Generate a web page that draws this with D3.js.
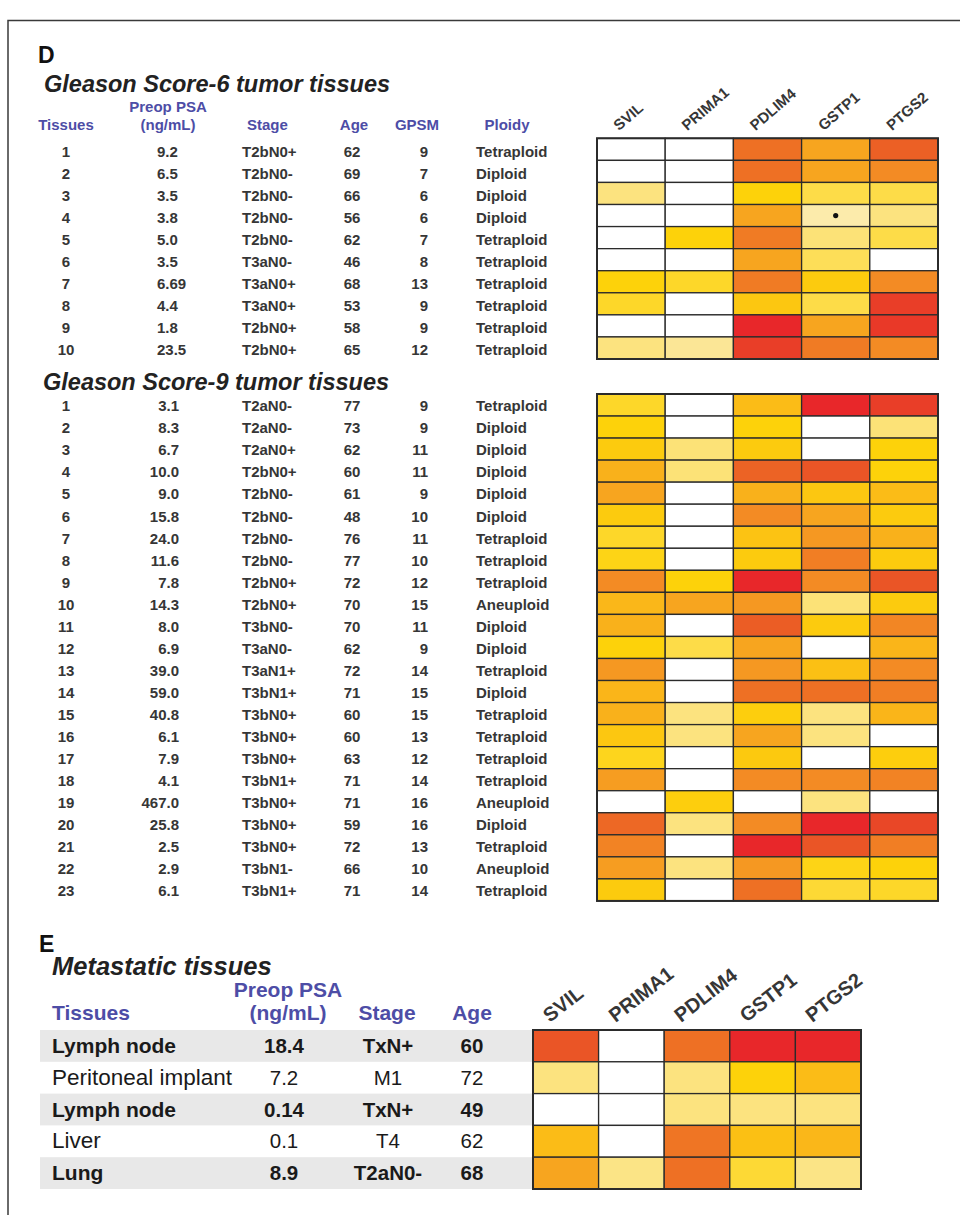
<!DOCTYPE html>
<html>
<head>
<meta charset="utf-8">
<script src="https://cdn.jsdelivr.net/npm/d3@7"></script>
<style>
  html, body { margin: 0; padding: 0; background: #fff; }
  svg { display: block; }
  text { font-family: "Liberation Sans", Arial, Helvetica, sans-serif; }
</style>
</head>
<body>
<svg id="fig" width="960" height="1215"></svg>
<script>
// ---------- data ----------
const genes = ["SVIL", "PRIMA1", "PDLIM4", "GSTP1", "PTGS2"];

// Gleason score-6 tumor tissues
const g6Tissue = ["1","2","3","4","5","6","7","8","9","10"];
const g6PSA    = ["9.2","6.5","3.5","3.8","5.0","3.5","6.69","4.4","1.8","23.5"];
const g6Stage  = ["T2bN0+","T2bN0-","T2bN0-","T2bN0-","T2bN0-","T3aN0-","T3aN0+","T3aN0+","T2bN0+","T2bN0+"];
const g6Age    = ["62","69","66","56","62","46","68","53","58","65"];
const g6GPSM   = ["9","7","6","6","7","8","13","9","9","12"];
const g6Ploidy = ["Tetraploid","Diploid","Diploid","Diploid","Tetraploid","Tetraploid","Tetraploid","Tetraploid","Tetraploid","Tetraploid"];
// methylation level per gene (0 = none ... 9 = highest)
const g6Level = [
  [0,   0,   7,   5,   7.6],
  [0,   0,   7,   5,   6],
  [1.3, 0,   3,   2,   2],
  [0,   0,   5,   0.8, 1.3],
  [0,   3,   6.6, 1.4, 2],
  [0,   0,   5,   1.8, 0],
  [3,   2.5, 6.6, 3.3, 6],
  [2.5, 0,   3.5, 2,   8.5],
  [0,   0,   9,   5,   8.6],
  [1.3, 1,   8.5, 6.6, 6]
];
// cells flagged with a dot
const g6Dots = [{ row: 3, gene: "GSTP1" }];

// Gleason score-9 tumor tissues
const g9Tissue = d3.range(1, 24).map(String);
const g9PSA    = ["3.1","8.3","6.7","10.0","9.0","15.8","24.0","11.6","7.8","14.3","8.0","6.9","39.0","59.0","40.8","6.1","7.9","4.1","467.0","25.8","2.5","2.9","6.1"];
const g9Stage  = ["T2aN0-","T2aN0-","T2aN0+","T2bN0+","T2bN0-","T2bN0-","T2bN0-","T2bN0-","T2bN0+","T2bN0+","T3bN0-","T3aN0-","T3aN1+","T3bN1+","T3bN0+","T3bN0+","T3bN0+","T3bN1+","T3bN0+","T3bN0+","T3bN0+","T3bN1-","T3bN1+"];
const g9Age    = ["77","73","62","60","61","48","76","77","72","70","70","62","72","71","60","60","63","71","71","59","72","66","71"];
const g9GPSM   = ["9","9","11","11","9","10","11","10","12","15","11","9","14","15","15","13","12","14","16","16","13","10","14"];
const g9Ploidy = ["Tetraploid","Diploid","Diploid","Diploid","Diploid","Diploid","Tetraploid","Tetraploid","Tetraploid","Aneuploid","Diploid","Diploid","Tetraploid","Diploid","Tetraploid","Tetraploid","Tetraploid","Tetraploid","Aneuploid","Diploid","Tetraploid","Aneuploid","Tetraploid"];
const g9Level = [
  [2.5, 0,   4,   9,   8.5],
  [3,   0,   3,   0,   1.4],
  [3.3, 1.4, 3.3, 0,   3],
  [4.5, 1.4, 7.5, 8,   3],
  [5,   0,   4.5, 3.5, 4],
  [3.3, 0,   6,   5,   3.3],
  [2.5, 0,   3.7, 5.5, 4.5],
  [2.8, 0,   3.3, 6.5, 3.3],
  [6,   3,   9,   6,   8],
  [4.2, 5,   5.5, 1.4, 3.3],
  [4.5, 0,   7.7, 3.3, 6.2],
  [3,   2,   5,   0,   4.3],
  [5.5, 0,   5.5, 3.8, 6],
  [4.3, 0,   7,   7,   6.5],
  [4.5, 1.3, 3.2, 1.3, 4.3],
  [3.5, 1.3, 5,   1.3, 0],
  [2.7, 0,   3.4, 0,   3.2],
  [5.3, 0,   6,   6,   6.3],
  [0,   3.2, 0,   1.3, 0],
  [7.3, 1.3, 6,   9,   8.3],
  [6.3, 0,   9,   8,   6.5],
  [5.3, 1.3, 5.5, 2.8, 3],
  [3.3, 0,   7,   2.3, 2.5]
];

// Metastatic tissues
const metTissue = ["Lymph node", "Peritoneal implant", "Lymph node", "Liver", "Lung"];
const metPSA    = ["18.4", "7.2", "0.14", "0.1", "8.9"];
const metStage  = ["TxN+", "M1", "TxN+", "T4", "T2aN0-"];
const metAge    = ["60", "72", "49", "62", "68"];
const metLevel = [
  [8,   0,   7,   9,   9],
  [1.3, 0,   1.3, 3,   4],
  [0,   0,   1.3, 1.3, 1.3],
  [4,   0,   6.8, 3.8, 4.2],
  [5,   1.2, 7,   2.3, 1.2]
];

// colour ramp for methylation level
const levelStops  = [0, 1, 2, 3, 4, 5, 6, 7, 8, 9];
const levelColors = ["#ffffff","#fbe696","#fddc48","#fdd20a","#fbbc17","#f7a51f","#f38b24","#ee7024","#ea5526","#e8272a"];

// ---------- drawing ----------
const svg = d3.select("#fig");
const color = d3.scaleLinear().domain(levelStops).range(levelColors).interpolate(d3.interpolateRgb);

const INK = "#363636";
const HEAD = "#4d4da6";

// figure frame (top and left edges)
svg.append("path")
  .attr("d", "M8,1215 V20.5 H960")
  .attr("fill", "none").attr("stroke", "#3a3a3a").attr("stroke-width", 1.5);

function heatmap(opts) {
  const { levels, x0, x1, y0, rowH, labels, labelSize, labelAngle, labelDx, dots } = opts;
  const n = levels.length;
  const x = d3.scaleBand().domain(genes).range([x0, x1]);
  const y = d3.scaleBand().domain(d3.range(n)).range([y0, y0 + rowH * n]);
  const g = svg.append("g");
  const cells = [];
  levels.forEach((row, i) => row.forEach((v, j) => cells.push({ i, gene: genes[j], v })));
  g.selectAll("rect.cell").data(cells).join("rect")
    .attr("class", "cell")
    .attr("x", d => x(d.gene)).attr("y", d => y(d.i))
    .attr("width", x.bandwidth()).attr("height", y.bandwidth())
    .attr("fill", d => color(d.v))
    .attr("stroke", "#2b2b2b").attr("stroke-width", 1.3);
  g.append("rect")
    .attr("x", x0).attr("y", y0).attr("width", x1 - x0).attr("height", rowH * n)
    .attr("fill", "none").attr("stroke", "#2b2b2b").attr("stroke-width", 2);
  if (dots) {
    g.selectAll("circle.dot").data(dots).join("circle")
      .attr("class", "dot")
      .attr("cx", d => x(d.gene) + x.bandwidth() / 2)
      .attr("cy", d => y(d.row) + y.bandwidth() / 2)
      .attr("r", 2.6).attr("fill", "#111");
  }
  if (labels) {
    const ax = g.append("g").attr("transform", `translate(0,${y0})`)
      .call(d3.axisTop(x).tickSize(0).tickPadding(0));
    ax.select(".domain").remove();
    ax.selectAll("text")
      .attr("text-anchor", "start")
      .attr("fill", INK)
      .style("font-size", labelSize + "px")
      .style("font-weight", "bold")
      .attr("x", 0).attr("y", 0).attr("dy", 0)
      .attr("transform", `translate(${labelDx},-7) rotate(${labelAngle})`);
  }
  return y;
}

function txt(x, y, s, o = {}) {
  return svg.append("text")
    .attr("x", x).attr("y", y)
    .attr("text-anchor", o.anchor || "start")
    .attr("fill", o.fill || INK)
    .style("font-size", (o.size || 15) + "px")
    .style("font-weight", o.weight || "bold")
    .style("font-style", o.italic ? "italic" : "normal")
    .text(s);
}

// ---- panel D : Gleason score-6 ----
txt(38, 63, "D", { size: 23, fill: "#111" });
txt(44, 92, "Gleason Score-6 tumor tissues", { size: 23.5, italic: true, fill: "#222" });

const colTissue = 66, colPSA = 168, colStage = 242, colAge = 352, colGPSM = 428, colPloidy = 476;
txt(colTissue, 130, "Tissues", { anchor: "middle", fill: HEAD });
txt(colPSA, 112, "Preop PSA", { anchor: "middle", fill: HEAD });
txt(colPSA, 130, "(ng/mL)", { anchor: "middle", fill: HEAD });
txt(colStage + 5, 130, "Stage", { fill: HEAD });
txt(colAge + 2, 130, "Age", { anchor: "middle", fill: HEAD });
txt(colGPSM - 11, 130, "GPSM", { anchor: "middle", fill: HEAD });
txt(colPloidy + 31, 130, "Ploidy", { anchor: "middle", fill: HEAD });

const y6 = heatmap({ levels: g6Level, x0: 597, x1: 938, y0: 138.3, rowH: 22.07,
  labels: true, labelSize: 15, labelAngle: -41, labelDx: -12, dots: g6Dots });

function tableRows(yScale, off, cols) {
  const n = cols.tissue.length;
  for (let i = 0; i < n; i++) {
    const yc = yScale(i) + yScale.bandwidth() / 2 + off;
    const base = yc + 5.3;
    txt(colTissue, base, cols.tissue[i], { anchor: "middle" });
    if (cols.psaAnchor === "end") txt(cols.psaX, base, cols.psa[i], { anchor: "end" });
    else txt(cols.psaX, base, cols.psa[i]);
    txt(colStage, base, cols.stage[i]);
    txt(colAge, base, cols.age[i], { anchor: "middle" });
    txt(colGPSM, base, cols.gpsm[i], { anchor: "end" });
    txt(colPloidy, base, cols.ploidy[i]);
  }
}
tableRows(y6, 2, { tissue: g6Tissue, psa: g6PSA, psaX: 157, psaAnchor: "start",
  stage: g6Stage, age: g6Age, gpsm: g6GPSM, ploidy: g6Ploidy });

// ---- Gleason score-9 ----
txt(43, 390, "Gleason Score-9 tumor tissues", { size: 23.5, italic: true, fill: "#222" });
const y9 = heatmap({ levels: g9Level, x0: 597, x1: 938, y0: 394, rowH: 22.04, labels: false });
tableRows(y9, 1, { tissue: g9Tissue, psa: g9PSA, psaX: 179, psaAnchor: "end",
  stage: g9Stage, age: g9Age, gpsm: g9GPSM, ploidy: g9Ploidy });

// ---- panel E : metastatic tissues ----
txt(39, 952, "E", { size: 23, fill: "#111" });
txt(52, 975, "Metastatic tissues", { size: 25.5, italic: true, fill: "#222" });

const mx0 = 533, mx1 = 861, my0 = 1030, mRowH = 31.8;
const yM = d3.scaleBand().domain(d3.range(metTissue.length)).range([my0, my0 + mRowH * metTissue.length]);
// shaded bands behind alternate rows
svg.append("g").selectAll("rect").data(d3.range(metTissue.length).filter(i => i % 2 === 0)).join("rect")
  .attr("x", 40).attr("y", i => yM(i)).attr("width", mx0 - 40).attr("height", yM.bandwidth())
  .attr("fill", "#e8e8e8");

txt(52, 1020, "Tissues", { size: 21, fill: HEAD });
txt(288, 997, "Preop PSA", { size: 21, anchor: "middle", fill: HEAD });
txt(288, 1020, "(ng/mL)", { size: 21, anchor: "middle", fill: HEAD });
txt(387, 1020, "Stage", { size: 21, anchor: "middle", fill: HEAD });
txt(472, 1020, "Age", { size: 21, anchor: "middle", fill: HEAD });

metTissue.forEach((t, i) => {
  const base = yM(i) + yM.bandwidth() / 2 + 7;
  const bold = i % 2 === 0;
  const o = { size: 20.5, weight: bold ? "bold" : "normal", fill: "#1a1a1a" };
  txt(52, base, t, { ...o, size: bold ? 21 : 22.5 });
  txt(284, base, metPSA[i], { ...o, anchor: "middle" });
  txt(388, base, metStage[i], { ...o, anchor: "middle" });
  txt(472, base, metAge[i], { ...o, anchor: "middle" });
});

heatmap({ levels: metLevel, x0: mx0, x1: mx1, y0: my0, rowH: mRowH,
  labels: true, labelSize: 20, labelAngle: -38, labelDx: -16 });
</script>
</body>
</html>
